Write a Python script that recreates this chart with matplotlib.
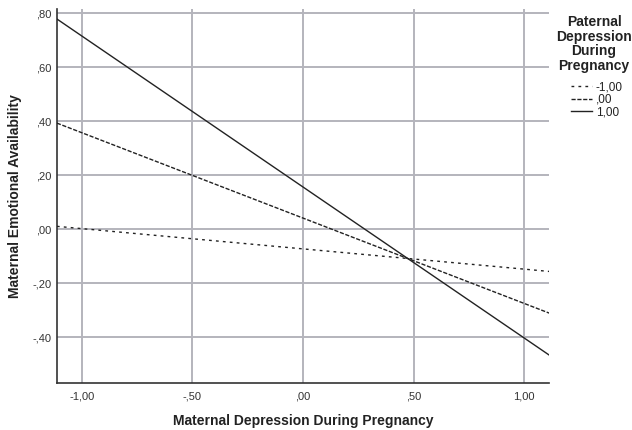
import numpy as np
import matplotlib.pyplot as plt
from matplotlib.lines import Line2D

plt.rcParams['font.family'] = ['Liberation Sans', 'DejaVu Sans']

# simple slopes: y = intercept + slope * x
group_labels = ['-1,00', ',00', '1,00']
intercepts = [-0.073, 0.041, 0.156]
slopes = [-0.075, -0.316, -0.559]
dash_styles = [(0, (2, 3)), (0, (3, 1.2)), '-']

x_ticks = [-1.0, -0.5, 0.0, 0.5, 1.0]
x_tick_labels = ['-1,00', '-,50', ',00', ',50', '1,00']
y_ticks = [-0.4, -0.2, 0.0, 0.2, 0.4, 0.6, 0.8]
y_tick_labels = ['-,40', '-,20', ',00', ',20', ',40', ',60', ',80']

x_lo, x_hi = -1.113, 1.113

fig = plt.figure(figsize=(6.32, 4.30), dpi=100)
ax = fig.add_axes([0.090, 0.109, 0.779, 0.870])

xs = np.array([x_lo, x_hi])
for b0, b1, ls in zip(intercepts, slopes, dash_styles):
    ax.plot(xs, b0 + b1 * xs, color='#222222', lw=1.0, linestyle=ls, zorder=3)

ax.set_xlim(x_lo, x_hi)
ax.set_ylim(-0.57, 0.815)
ax.set_xticks(x_ticks)
ax.set_xticklabels(x_tick_labels)
ax.set_yticks(y_ticks)
ax.set_yticklabels(y_tick_labels)
ax.grid(True, color='#b4b4bc', lw=1.4)
ax.set_axisbelow(True)
ax.tick_params(length=0, labelsize=8, colors='#333333')
ax.tick_params(axis='x', pad=6)
ax.tick_params(axis='y', pad=4)

for side in ['top', 'right']:
    ax.spines[side].set_visible(False)
for side in ['left', 'bottom']:
    ax.spines[side].set_color('#333333')
    ax.spines[side].set_linewidth(1.2)

ax.set_xlabel('Maternal Depression During Pregnancy', fontsize=10,
              fontweight='bold', color='#222222')
ax.set_ylabel('Maternal Emotional Availability', fontsize=10,
              fontweight='bold', color='#222222')
ax.xaxis.set_label_coords(0.5, -0.082)
ax.yaxis.set_label_coords(-0.07, 0.5)

# legend title drawn as centred text, entries below it
fig.text(0.940, 0.965, 'Paternal\nDepression\nDuring\nPregnancy',
         ha='center', va='top', fontsize=10, fontweight='bold',
         color='#222222', linespacing=1.05)
handles = [Line2D([0], [0], color='#222222', lw=1.0, linestyle=ls)
           for ls in dash_styles]
leg = fig.legend(handles, group_labels, loc='upper left',
                 bbox_to_anchor=(0.892, 0.828), frameon=False,
                 fontsize=8.5, handlelength=1.8, handletextpad=0.3,
                 labelspacing=0.05, borderpad=0.1)
for t in leg.get_texts():
    t.set_color('#222222')

fig.savefig('out.png', dpi=100)
